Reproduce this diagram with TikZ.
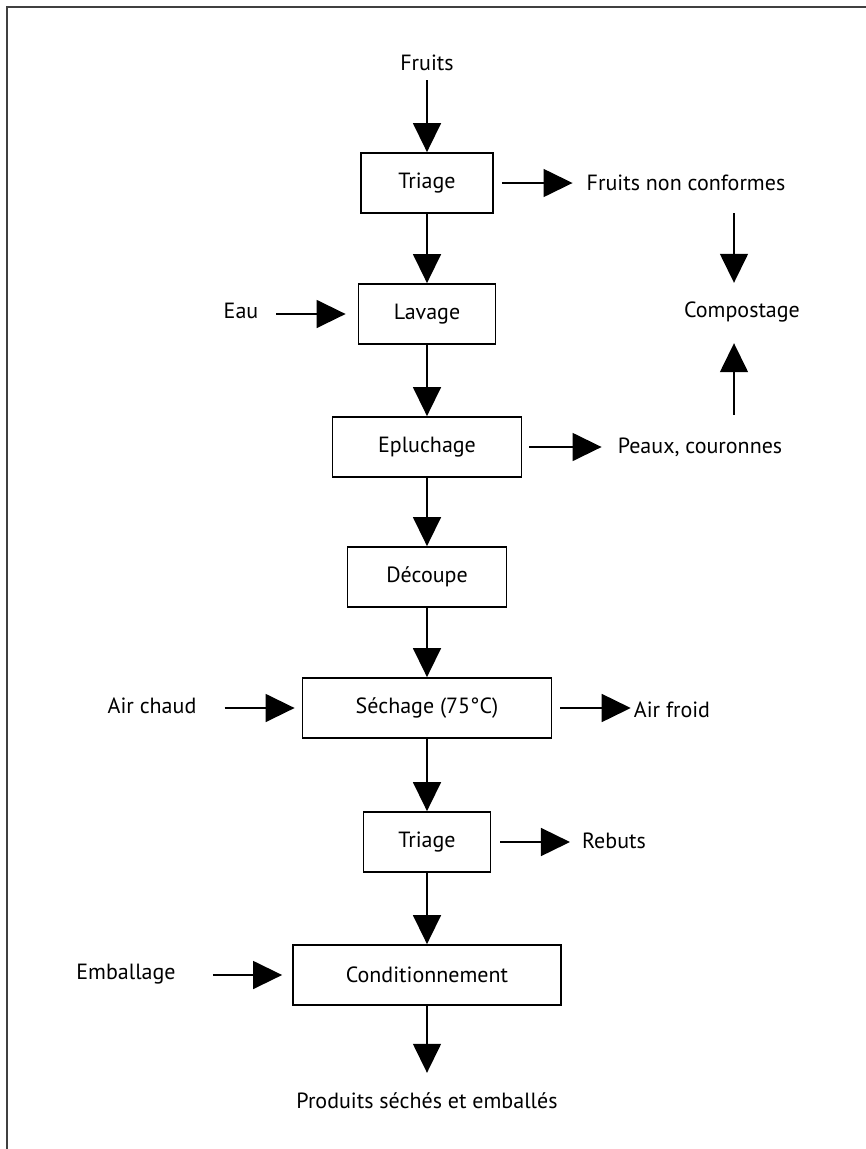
\documentclass[tikz,border=0pt]{standalone}
\usepackage{fontspec}
\setmainfont{PT Sans}
\usetikzlibrary{arrows.meta}

\begin{document}
\begin{tikzpicture}[x=1pt, y=-1pt,
    font=\fontsize{22}{26}\selectfont,
    box/.style={draw, line width=1.8pt, minimum height=60pt, inner sep=0pt},
    lbl/.style={inner sep=0pt, text height=16pt, text depth=5pt},
    flow/.style={line width=1.5pt, -{Triangle[length=29pt,width=28pt]}}]
    \useasboundingbox (0,0) rectangle (866,1149);
    \draw[line width=1.5pt, black!75] (7,1149) -- (7,7) -- (866,7);

    \node[lbl] at (427,65)(fruits) {Fruits};
    \node[box, minimum width=132pt] at (427,183)(triage1) {Triage};
    \node[box, minimum width=137pt] at (427,314)(lavage) {Lavage};
    \node[box, minimum width=189pt] at (427,447)(epluchage) {Epluchage};
    \node[box, minimum width=159pt] at (427,577)(decoupe) {Découpe};
    \node[box, minimum width=249pt] at (427,708)(sechage) {Séchage (75°C)};
    \node[box, minimum width=127pt] at (427,842)(triage2) {Triage};
    \node[box, minimum width=268pt] at (427,975)(cond) {Conditionnement};
    \node[lbl] at (427,1103)(produits) {Produits séchés et emballés};

    \node[lbl] at (686,185)(fnc) {Fruits non conformes};
    \node[lbl] at (742,312)(compost) {Compostage};
    \node[lbl] at (700,448)(peaux) {Peaux, couronnes};
    \node[lbl] at (241,313)(eau) {Eau};
    \node[lbl] at (152,708)(airchaud) {Air chaud};
    \node[lbl] at (672,712)(airfroid) {Air froid};
    \node[lbl] at (614,843)(rebuts) {Rebuts};
    \node[lbl] at (126,974)(emballage) {Emballage};
    \coordinate (cx) at (734,0);

    \draw[flow, shorten <=4.5pt] (fruits) -- (triage1);
    \foreach \a/\b in {triage1/lavage, lavage/epluchage, epluchage/decoupe,
        decoupe/sechage, sechage/triage2, triage2/cond}
        \draw[flow] (\a) -- (\b);
    \draw[flow, shorten >=19.5pt] (cond) -- (produits);

    \draw[flow, shorten <=8pt, shorten >=14pt] (triage1.east) -- (triage1.east -| fnc.west);
    \draw[flow, shorten <=18pt, shorten >=12pt] (eau.east |- lavage.west) -- (lavage.west);
    \draw[flow, shorten <=7pt, shorten >=16pt] (epluchage.east) -- (epluchage.east -| peaux.west);
    \draw[flow, shorten <=28pt, shorten >=7pt] (airchaud.east |- sechage.west) -- (sechage.west);
    \draw[flow, shorten <=8pt, shorten >=3pt] (sechage.east) -- (sechage.east -| airfroid.west);
    \draw[flow, shorten <=9pt, shorten >=12pt] (triage2.east) -- (triage2.east -| rebuts.west);
    \draw[flow, shorten <=37pt, shorten >=10pt] (emballage.east |- cond.west) -- (cond.west);

    \draw[flow, shorten <=17.5pt, shorten >=18.5pt] (fnc.south -| cx) -- (compost.north -| cx);
    \draw[flow, shorten <=22.5pt, shorten >=20.5pt] (peaux.north -| cx) -- (compost.south -| cx);
\end{tikzpicture}
\end{document}
